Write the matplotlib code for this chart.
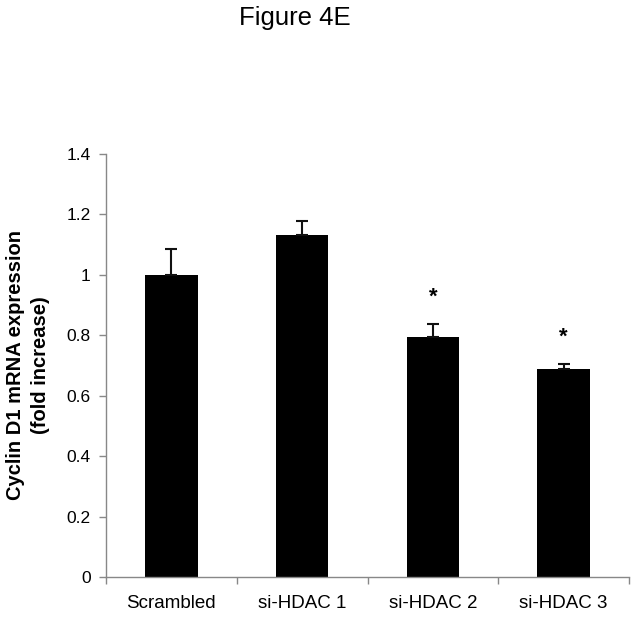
import matplotlib
matplotlib.use("Agg")
import matplotlib.pyplot as plt
import numpy as np

categories = ["Scrambled", "si-HDAC 1", "si-HDAC 2", "si-HDAC 3"]
values = [1.0, 1.131, 0.794, 0.689]
errors = [0.087, 0.047, 0.042, 0.015]
significant = [False, False, True, True]
yticks = [0, 0.2, 0.4, 0.6, 0.8, 1.0, 1.2, 1.4]
ytick_labels = ["0", "0.2", "0.4", "0.6", "0.8", "1", "1.2", "1.4"]

plt.rcParams['font.family'] = ['Liberation Sans', 'DejaVu Sans']

fig = plt.figure(figsize=(6.38, 6.19), dpi=100)
ax = fig.add_axes([106/638, 42/619, 523/638, 423/619])

x = np.arange(len(categories))
ax.bar(x, values, width=0.4, color='black', zorder=2)
ax.errorbar(x, values, yerr=[np.zeros(len(errors)), errors], fmt='none',
            ecolor='#111111', elinewidth=1.5, capsize=4, capthick=1.5, zorder=3)

for xi, v, e, s in zip(x, values, errors, significant):
    if s:
        ax.text(xi, v + e + 0.055, "*", ha='center', va='bottom', fontsize=16,
                fontweight='bold')

ax.set_xlim(-0.5, 3.5)
ax.set_ylim(0, 1.4)
ax.set_yticks(yticks)
ax.set_yticklabels(ytick_labels, fontsize=12.5)
ax.set_xticks(x)
ax.set_xticklabels(categories, fontsize=13.5)
ax.tick_params(axis='x', length=0, pad=13)
ax.tick_params(axis='y', length=5, color='#888888', width=1, pad=6)
# category separator ticks
ax.set_xticks([-0.5, 0.5, 1.5, 2.5, 3.5], minor=True)
ax.tick_params(axis='x', which='minor', length=5, color='#888888', width=1)

for side in ['top', 'right']:
    ax.spines[side].set_visible(False)
for side in ['left', 'bottom']:
    ax.spines[side].set_color('#888888')
    ax.spines[side].set_linewidth(1)

fig.text(28/638, 1 - 365/619, "Cyclin D1 mRNA expression\n(fold increase)",
         rotation=90, ha='center', va='center', fontsize=14.5,
         fontweight='bold', linespacing=1.35)

fig.text(295/638, 1 - 18/619, "Figure 4E", ha='center', va='center', fontsize=18.5)

fig.savefig("out.png", dpi=100)
